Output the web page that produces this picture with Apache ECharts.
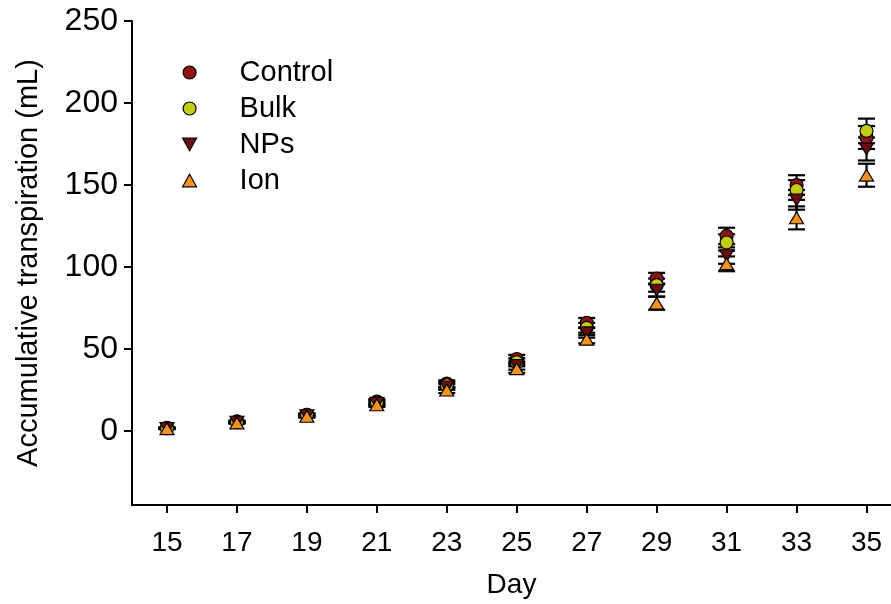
<!DOCTYPE html>
<html>
<head>
<meta charset="utf-8">
<script src="https://cdn.jsdelivr.net/npm/echarts@6/dist/echarts.min.js"></script>
<style>
  html, body { margin: 0; padding: 0; background: #fff; }
  #chart { width: 891px; height: 604px; }
</style>
</head>
<body>
<div id="chart"></div>
<script>
// Sampling days
const days = [15, 17, 19, 21, 23, 25, 27, 29, 31, 33, 35];

// Mean accumulative transpiration (mL) per treatment
const control = [2, 6, 10, 18, 29, 44, 66, 93, 119, 150, 179];
const bulk    = [1.8, 5.5, 10, 17.5, 28, 42, 63, 89, 115, 147, 183];
const nps     = [1.7, 5.5, 9.5, 17, 27, 40, 60, 86, 107, 141, 172];
const ion     = [1.5, 5, 9, 16, 25, 38, 56, 78, 102, 130, 156];

// Standard errors
const controlErr = [0.3, 0.5, 0.8, 1.5, 2, 2.5, 3, 3.5, 5, 6, 7];
const bulkErr    = [0.3, 0.5, 0.8, 1.5, 2, 2.5, 3, 4, 5, 6, 7.5];
const npsErr     = [0.3, 0.5, 0.8, 1.2, 1.8, 2.5, 3, 4, 5, 6, 7];
const ionErr     = [0.3, 0.5, 0.8, 1.2, 1.8, 2.5, 2.5, 4, 4.5, 7, 7];

// Axis tick positions
const xTicks = [15, 17, 19, 21, 23, 25, 27, 29, 31, 33, 35];
const yTicks = [0, 50, 100, 150, 200, 250];

// Downward-pointing triangle used for the NPs group
const DOWN_TRIANGLE = 'path://M0,0 L10,0 L5,9 Z';
const UP_TRIANGLE = 'path://M5,0 L10,9 L0,9 Z';

const groups = [
  { name: 'Control', values: control, errs: controlErr, color: '#8e1414', symbol: 'circle', size: 13 },
  { name: 'Bulk',    values: bulk,    errs: bulkErr,    color: '#c3cc12', symbol: 'circle', size: 13 },
  { name: 'NPs',     values: nps,     errs: npsErr,     color: '#6a0e0e', symbol: DOWN_TRIANGLE, size: [14, 13] },
  { name: 'Ion',     values: ion,     errs: ionErr,     color: '#f39220', symbol: UP_TRIANGLE, size: [14, 13] }
];

const CAP = 8.5; // half cap width, px
const FONT = 'Liberation Sans, Arial, sans-serif';

function errorBarSeries(g) {
  const data = days.map((d, i) => [d, g.values[i] - g.errs[i], g.values[i] + g.errs[i]]);
  return {
    type: 'custom',
    name: g.name + ' SE',
    data: data,
    silent: true,
    renderItem: function (params, api) {
      const x = api.value(0);
      const lo = api.coord([x, api.value(1)]);
      const hi = api.coord([x, api.value(2)]);
      const style = { stroke: '#000', lineWidth: 2.2 };
      return {
        type: 'group',
        children: [
          { type: 'line', shape: { x1: lo[0], y1: lo[1], x2: hi[0], y2: hi[1] }, style: style },
          { type: 'line', shape: { x1: lo[0] - CAP, y1: lo[1], x2: lo[0] + CAP, y2: lo[1] }, style: style },
          { type: 'line', shape: { x1: hi[0] - CAP, y1: hi[1], x2: hi[0] + CAP, y2: hi[1] }, style: style }
        ]
      };
    }
  };
}

function pointSeries(g) {
  return {
    type: 'scatter',
    name: g.name,
    data: days.map((d, i) => [d, g.values[i]]),
    symbol: g.symbol,
    symbolSize: g.size,
    symbolKeepAspect: true,
    itemStyle: { color: g.color, borderColor: '#000', borderWidth: 1.2, opacity: 1 },
    emphasis: { disabled: true }
  };
}

const series = [];
groups.forEach(g => { series.push(errorBarSeries(g)); series.push(pointSeries(g)); });

const chart = echarts.init(document.getElementById('chart'), null, { renderer: 'canvas' });
chart.setOption({
  animation: false,
  backgroundColor: '#fff',
  grid: { left: 132, right: 0, top: 21, bottom: 99, containLabel: false },
  legend: {
    orient: 'vertical',
    left: 177,
    top: 53,
    itemWidth: 14,
    itemHeight: 13,
    itemGap: 7,
    symbolKeepAspect: true,
    data: groups.map(g => ({ name: g.name, icon: g.symbol, itemStyle: { color: g.color, borderColor: '#000', borderWidth: 1.2 } })),
    textStyle: { fontFamily: FONT, fontSize: 29, color: '#000', lineHeight: 29, padding: [0, 0, 0, 38] },
    selectedMode: false
  },
  xAxis: {
    type: 'value',
    min: 14,
    max: 35.7,
    name: 'Day',
    nameLocation: 'middle',
    nameGap: 66,
    nameTextStyle: { fontFamily: FONT, fontSize: 28, color: '#000', verticalAlign: 'top' },
    axisLine: { show: true, onZero: false, lineStyle: { color: '#000', width: 2 } },
    axisTick: { show: true, inside: false, length: 8, customValues: xTicks, lineStyle: { color: '#000', width: 2 } },
    axisLabel: { customValues: xTicks, margin: 24, fontFamily: FONT, fontSize: 28, color: '#000' },
    splitLine: { show: false }
  },
  yAxis: {
    type: 'value',
    min: -45,
    max: 250,
    name: 'Accumulative transpiration (mL)',
    nameLocation: 'middle',
    nameRotate: 90,
    nameGap: 89,
    nameTextStyle: { fontFamily: FONT, fontSize: 29, color: '#000' },
    axisLine: { show: true, onZero: false, lineStyle: { color: '#000', width: 2 } },
    axisTick: { show: true, inside: false, length: 8, customValues: yTicks, lineStyle: { color: '#000', width: 2 } },
    axisLabel: { customValues: yTicks, margin: 14, fontFamily: FONT, fontSize: 32, color: '#000' },
    splitLine: { show: false }
  },
  series: series
});
</script>
</body>
</html>
